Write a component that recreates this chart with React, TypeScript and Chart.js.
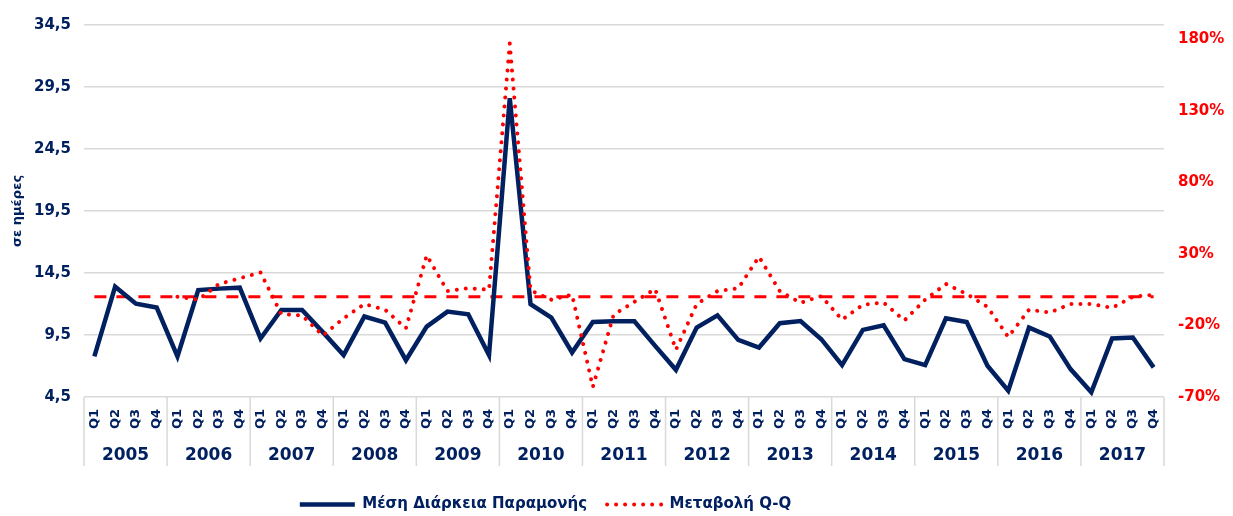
import React, { useEffect, useRef } from 'react';
import { Chart, registerables } from 'chart.js';

Chart.register(...registerables);

const years = ['2005', '2006', '2007', '2008', '2009', '2010', '2011', '2012', '2013', '2014', '2015', '2016', '2017'];
const quarters = ['Q1', 'Q2', 'Q3', 'Q4'];

// Μέση Διάρκεια Παραμονής (days), quarterly 2005Q1..2017Q4
const avgStay = [
  7.77, 13.40, 12.03, 11.71,
  7.77, 13.12, 13.24, 13.32,
  9.22, 11.52, 11.52, 9.73,
  7.88, 10.99, 10.50, 7.47,
  10.18, 11.39, 11.17, 7.88,
  28.59, 11.98, 10.90, 8.09,
  10.55, 10.60, 10.60, 8.62,
  6.69, 10.10, 11.09, 9.10,
  8.49, 10.45, 10.63, 9.16,
  7.07, 9.91, 10.29, 7.55,
  7.07, 10.85, 10.55, 7.02,
  5.00, 10.10, 9.38, 6.75,
  4.88, 9.22, 9.30, 6.89,
];

// Μεταβολή Q-Q (%), no value for 2005
const qqChange = [
  null, null, null, null,
  0, -2, 9, 13,
  17, -12, -13, -27,
  -15, -5, -9, -22,
  29, 4, 6, 5,
  177, 4.5, -2, 1.5,
  -63, -12.5, -3.5, 5.5,
  -37, -5, 4, 6,
  28, 4, -4.2, 0.5,
  -16, -5.5, -4, -16.5,
  -2, 9, 2, -7,
  -28, -9, -11, -5,
  -5, -7.7, 0, 1.5,
];

// 0% reference line
const zeroLine = [
  0, 0, 0, 0, 0, 0, 0, 0, 0, 0, 0, 0, 0,
  0, 0, 0, 0, 0, 0, 0, 0, 0, 0, 0, 0, 0,
  0, 0, 0, 0, 0, 0, 0, 0, 0, 0, 0, 0, 0,
  0, 0, 0, 0, 0, 0, 0, 0, 0, 0, 0, 0, 0,
];

const leftTicks = [4.5, 9.5, 14.5, 19.5, 24.5, 29.5, 34.5];
const rightTicks = [-70, -20, 30, 80, 130, 180];

const categories = years.flatMap(() => quarters);

const NAVY = '#002060';
const RED = '#FF0000';
const GRID = '#D9D9D9';
const FONT = "'DejaVu Sans', Verdana, sans-serif";

const yearSeparators = {
  id: 'yearSeparators',
  afterLayout(chart: any) {
    // legend is centred a little left of the canvas centre in the reference
    if (chart.legend) chart.legend.right -= 142;
  },
  afterDraw(chart: any) {
    const x = chart.scales.x;
    const x2 = chart.scales.x2;
    const ctx = chart.ctx;
    const step = x.getPixelForValue(1) - x.getPixelForValue(0);
    ctx.save();
    ctx.strokeStyle = GRID;
    ctx.lineWidth = 1.5;
    const total = years.length * quarters.length;
    for (let k = 0; k <= total; k += quarters.length) {
      const px = x.getPixelForValue(k) - step / 2;
      ctx.beginPath();
      ctx.moveTo(px, chart.chartArea.bottom);
      ctx.lineTo(px, x2.bottom - 11);
      ctx.stroke();
    }
    ctx.restore();
  },
};

export default function App() {
  const ref = useRef<HTMLCanvasElement>(null);

  useEffect(() => {
    if (!ref.current) return;
    const chart = new Chart(ref.current, {
      type: 'line',
      data: {
        labels: categories,
        datasets: [
          {
            label: 'Μέση Διάρκεια Παραμονής',
            data: avgStay,
            yAxisID: 'y',
            borderColor: NAVY,
            backgroundColor: NAVY,
            borderWidth: 4.5,
            pointRadius: 0,
            tension: 0,
            order: 1,
          },
          {
            label: 'Μεταβολή Q-Q',
            data: qqChange as any,
            yAxisID: 'y1',
            borderColor: RED,
            backgroundColor: RED,
            borderWidth: 4,
            borderDash: [0.01, 9],
            borderCapStyle: 'round',
            pointRadius: 0,
            tension: 0,
            spanGaps: false,
            order: 0,
          },
          {
            label: 'zero',
            data: zeroLine,
            yAxisID: 'y1',
            borderColor: RED,
            borderWidth: 3,
            borderDash: [12, 10],
            pointRadius: 0,
            tension: 0,
            order: 2,
          },
        ],
      },
      options: {
        animation: false,
        responsive: true,
        maintainAspectRatio: false,
        layout: { padding: { top: 25, bottom: 2, left: 0, right: 0 } },
        plugins: {
          tooltip: { enabled: false },
          legend: {
            position: 'bottom',
            labels: {
              usePointStyle: true,
              pointStyleWidth: 55,
              padding: 20,
              color: NAVY,
              font: { family: FONT, size: 15, weight: 'bold' },
              generateLabels: () => [
                {
                  text: 'Μέση Διάρκεια Παραμονής',
                  fillStyle: NAVY,
                  strokeStyle: NAVY,
                  fontColor: NAVY,
                  lineWidth: 4.5,
                  lineCap: 'butt',
                  lineDash: [],
                  pointStyle: 'line',
                  hidden: false,
                  datasetIndex: 0,
                } as any,
                {
                  text: 'Μεταβολή Q-Q',
                  fillStyle: RED,
                  strokeStyle: RED,
                  fontColor: NAVY,
                  lineWidth: 4,
                  lineCap: 'round',
                  lineDash: [0.01, 9],
                  pointStyle: 'line',
                  hidden: false,
                  datasetIndex: 1,
                } as any,
              ],
            },
          },
        },
        scales: {
          x: {
            type: 'category',
            position: 'bottom',
            weight: 0,
            offset: true,
            grid: { display: false, drawTicks: false },
            border: { display: false },
            ticks: {
              autoSkip: false,
              minRotation: 90,
              maxRotation: 90,
              padding: 12,
              color: NAVY,
              font: { family: FONT, size: 13, weight: 'bold' },
            },
            afterFit: (s: any) => { s.height = 40; },
          },
          x2: {
            type: 'category',
            labels: years,
            position: 'bottom',
            weight: 1,
            offset: true,
            grid: { display: false, drawTicks: false },
            border: { display: false },
            ticks: {
              autoSkip: false,
              maxRotation: 0,
              minRotation: 0,
              padding: 8,
              color: NAVY,
              font: { family: FONT, size: 17, weight: 'bold' },
            },
            afterFit: (s: any) => { s.height = 40; },
          },
          y: {
            type: 'linear',
            position: 'left',
            min: 4.5,
            max: 34.5,
            afterBuildTicks: (s: any) => { s.ticks = leftTicks.map((v) => ({ value: v })); },
            ticks: {
              padding: 13,
              color: NAVY,
              font: { family: FONT, size: 15, weight: 'bold' },
              callback: (v: any) => Number(v).toFixed(1).replace('.', ','),
            },
            grid: { color: GRID, lineWidth: 1.5, drawTicks: false },
            border: { display: false },
            title: {
              display: true,
              text: 'σε ημέρες',
              color: NAVY,
              font: { family: FONT, size: 13, weight: 'bold' },
              padding: { top: 10, bottom: 0 },
            },
            afterFit: (s: any) => { s.width = 84; },
          },
          y1: {
            type: 'linear',
            position: 'right',
            min: -70,
            max: 190,
            afterBuildTicks: (s: any) => { s.ticks = rightTicks.map((v) => ({ value: v })); },
            ticks: {
              padding: 14,
              color: RED,
              font: { family: FONT, size: 15, weight: 'bold' },
              callback: (v: any) => `${v}%`,
            },
            grid: { drawOnChartArea: false, drawTicks: false },
            border: { display: false },
            afterFit: (s: any) => { s.width = 69; },
          },
        },
      } as any,
      plugins: [yearSeparators],
    });
    return () => chart.destroy();
  }, []);

  return (
    <div style={{ position: 'absolute', left: 0, top: 0, width: 1233, height: 516, overflow: 'hidden', background: '#fff' }}>
      <div style={{ position: 'relative', width: 1233, height: 524 }}>
        <canvas ref={ref} />
      </div>
    </div>
  );
}
